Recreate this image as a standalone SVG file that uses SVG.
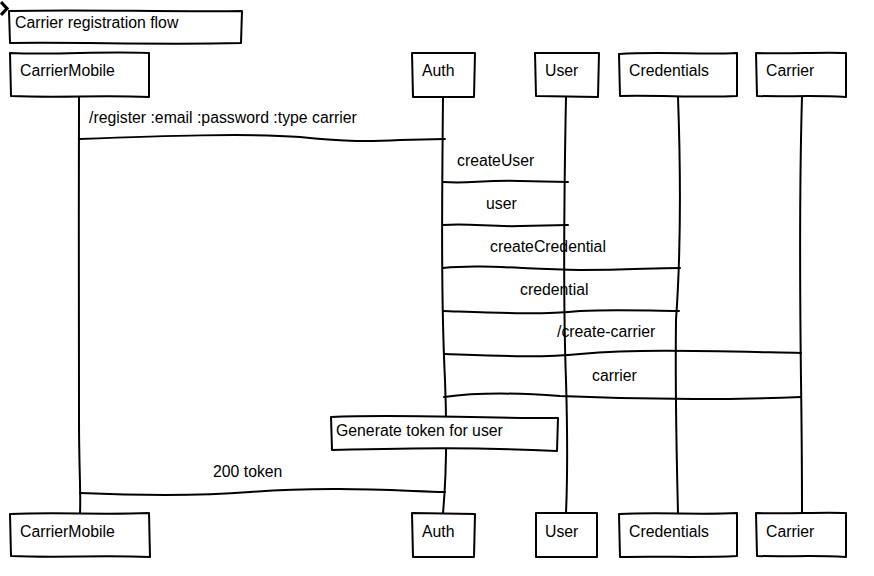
<svg xmlns="http://www.w3.org/2000/svg" width="874" height="576" viewBox="0 0 874 576">
<style>
.ln{fill:none;stroke:#000;stroke-width:2;stroke-linecap:round;stroke-linejoin:round}
.bx{fill:#fff;stroke:#000;stroke-width:2;stroke-linejoin:round}
.t{font-family:"Liberation Sans",Arial,sans-serif;font-size:15.8px;fill:#000}
</style>
<rect width="874" height="576" fill="#fff"/>
<g id="connectors">
  <!-- lifelines -->
  <path class="ln" d="M79,97 C78,200 80,350 79,420 C79,470 81,495 80,513"/>
  <path class="ln" d="M443,97 C442,200 441,300 445,380 C447,430 446,480 443,513"/>
  <path class="ln" d="M566,97 C564,200 563,300 566,380 C568,450 567,490 566,513"/>
  <path class="ln" d="M678,97 C681,180 681,250 676,320 C675,400 677,470 678,513"/>
  <path class="ln" d="M802,97 C799,200 800,300 801,380 C802,450 802,490 802,513"/>
  <!-- messages -->
  <path class="ln" d="M79,139 C160,136 250,133 300,137 C340,141 360,142 400,140 L445,139"/>
  <path class="ln" d="M443,182 C470,184 480,180 520,181 L568,182"/>
  <path class="ln" d="M443,225 C470,223 490,227 520,226 L568,225"/>
  <path class="ln" d="M443,268 C480,264 520,269 580,270 C630,270 650,268 680,268"/>
  <path class="ln" d="M443,311 C500,313 540,315 580,311 C620,309 650,311 679,311"/>
  <path class="ln" d="M444,354 C500,356 540,358 580,354 C640,349 700,351 801,353"/>
  <path class="ln" d="M444,397 C480,392 520,393 560,396 C650,400 720,400 801,397"/>
  <path class="ln" d="M80,493 C150,496 200,496 250,492 C330,486 400,491 445,492"/>
</g>
<g id="title">
  <path class="bx" d="M9,11 C80,9 160,12 242,11 L241,43 C160,45 80,42 10,43 Z"/>
  <polyline points="1,2 7,8.5 1,15" fill="none" stroke="#000" stroke-width="3.2" stroke-linejoin="miter"/>
  <text class="t" x="15" y="28">Carrier registration flow</text>
</g>
<g id="carriermobile">
  <path class="bx" d="M10,53 C60,55 100,51 149,53 L149,97 C100,95 60,98 11,96 Z"/>
  <text class="t" x="20" y="76">CarrierMobile</text>
  <path class="bx" d="M10,514 C60,512 100,515 149,513 L150,557 C100,555 60,558 11,556 Z"/>
  <text class="t" x="20" y="537">CarrierMobile</text>
</g>
<g id="auth">
  <path class="bx" d="M412,53 L475,53 L474,97 L413,97 Z"/>
  <text class="t" x="422" y="76">Auth</text>
  <path class="bx" d="M412,513 L475,514 L474,557 L413,557 Z"/>
  <text class="t" x="422" y="537">Auth</text>
</g>
<g id="user">
  <path class="bx" d="M535,53 L599,53 L598,97 L536,96 Z"/>
  <text class="t" x="545" y="76">User</text>
  <path class="bx" d="M536,513 L597,513 L597,557 L536,557 Z"/>
  <text class="t" x="545" y="537">User</text>
</g>
<g id="credentials">
  <path class="bx" d="M619,54 C660,51 700,55 737,53 L737,96 C700,98 660,95 620,96 Z"/>
  <text class="t" x="629" y="76">Credentials</text>
  <path class="bx" d="M619,514 C660,512 700,515 737,513 L737,556 C700,558 660,556 620,557 Z"/>
  <text class="t" x="629" y="537">Credentials</text>
</g>
<g id="carrier">
  <path class="bx" d="M756,53 C790,54 820,52 846,53 L846,97 C810,95 790,97 757,96 Z"/>
  <text class="t" x="766" y="76">Carrier</text>
  <path class="bx" d="M756,513 C790,514 820,512 846,513 L846,557 C810,555 790,557 757,556 Z"/>
  <text class="t" x="766" y="537">Carrier</text>
</g>
<g id="note">
  <path class="bx" d="M331,417 C400,414 460,418 558,418 L557,451 C470,447 420,448 332,450 Z"/>
  <text class="t" x="336" y="436">Generate token for user</text>
</g>
<g id="labels">
  <text class="t" x="89" y="123">/register :email :password :type carrier</text>
  <text class="t" x="457" y="166">createUser</text>
  <text class="t" x="486" y="209">user</text>
  <text class="t" x="490" y="252">createCredential</text>
  <text class="t" x="520" y="295">credential</text>
  <text class="t" x="557" y="337">/create-carrier</text>
  <text class="t" x="592" y="381">carrier</text>
  <text class="t" x="213" y="477">200 token</text>
</g>
</svg>
